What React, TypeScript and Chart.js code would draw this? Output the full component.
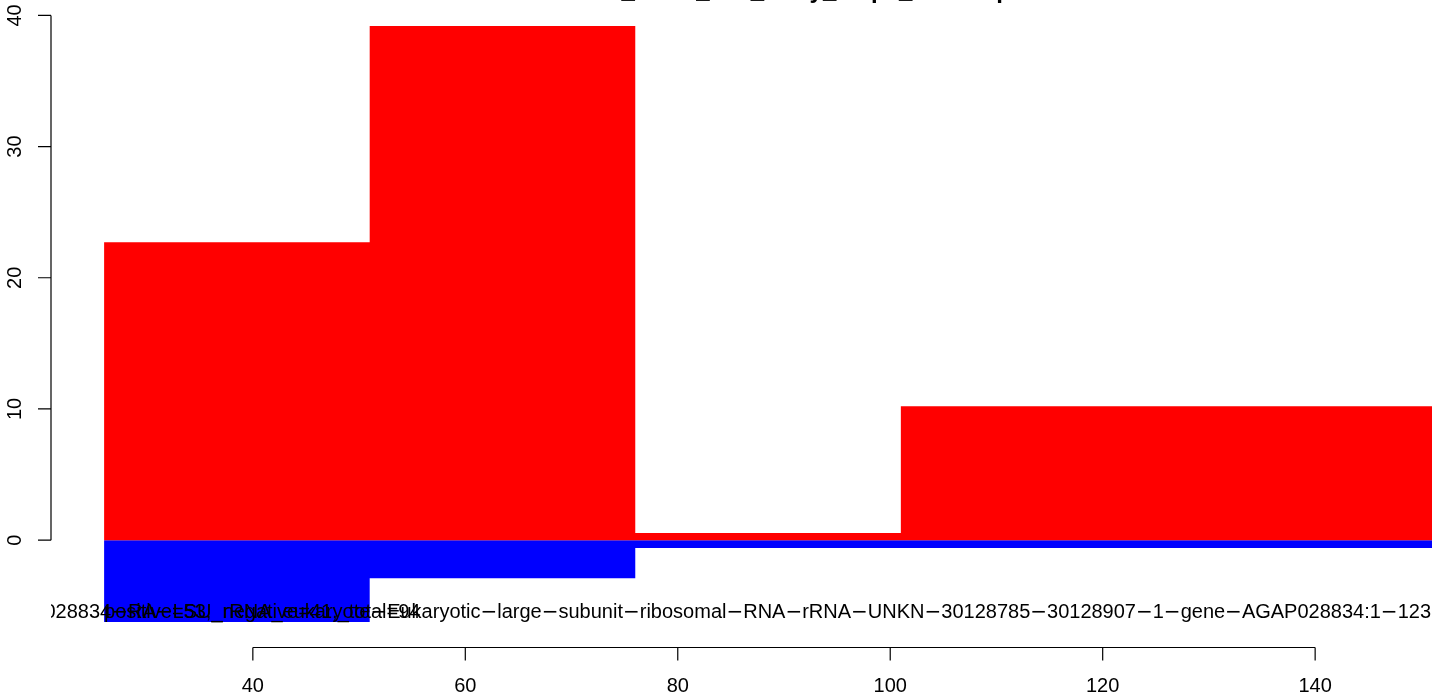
import React, { useEffect, useRef } from "react";
import { Chart, registerables } from "chart.js";

Chart.register(...registerables);

// ---- data ----
const binEdges = [26, 51, 76, 101, 151];
const positiveCounts = [22.7, 39.2, 0.55, 10.2];
const negativeCounts = [-6.25, -2.9, -0.6, -0.6];
const xTicks = [40, 60, 80, 100, 120, 140];
const yTicks = [0, 10, 20, 30, 40];
const xRange = [21, 151];
const yRange = [-8.07, 41.02];
const titleText = "AGAP028834_rRNA_raw_array_maps_heatmap";
const countLabel = "positive=53,_negative=41,_total=94";
const featureLabel =
  "AGAP028834−RA−LSU_rRNA_eukaryote−Eukaryotic−large−subunit−ribosomal−RNA−rRNA−UNKN−30128785−30128907−1−gene−AGAP028834:1−123";

const FONT = "'Liberation Sans', Arial, Helvetica, sans-serif";
const MINUS_FONT = "'DejaVu Sans', sans-serif";

function barOutline(values: number[]) {
  const pts: { x: number; y: number }[] = [];
  values.forEach((v, i) => {
    pts.push({ x: binEdges[i], y: v });
    pts.push({ x: binEdges[i + 1], y: v });
  });
  return pts;
}

function drawMinusText(ctx: CanvasRenderingContext2D, text: string, x: number, y: number, align: string, size: number) {
  const parts = text.split("−");
  ctx.font = `${size}px ${MINUS_FONT}`;
  const mw = ctx.measureText("−").width;
  ctx.font = `${size}px ${FONT}`;
  const widths = parts.map((p) => ctx.measureText(p).width);
  const total = widths.reduce((a, b) => a + b, 0) + mw * (parts.length - 1);
  let cx = align === "right" ? x - total : align === "center" ? x - total / 2 : x;
  ctx.textAlign = "left";
  parts.forEach((p, i) => {
    ctx.font = `${size}px ${FONT}`;
    ctx.fillText(p, cx, y);
    cx += widths[i];
    if (i < parts.length - 1) {
      ctx.font = `${size}px ${MINUS_FONT}`;
      ctx.fillText("−", cx, y);
      cx += mw;
    }
  });
}

const rAxesPlugin = {
  id: "rAxes",
  afterDraw(chart: any) {
    const { ctx, chartArea, scales } = chart;
    const xs = scales.x;
    const ys = scales.y;
    ctx.save();
    ctx.strokeStyle = "#000";
    ctx.fillStyle = "#000";
    ctx.lineWidth = 1.2;

    // y axis
    const ax = chartArea.left;
    ctx.beginPath();
    ctx.moveTo(ax, ys.getPixelForValue(yTicks[0]));
    ctx.lineTo(ax, ys.getPixelForValue(yTicks[yTicks.length - 1]));
    yTicks.forEach((t) => {
      const py = ys.getPixelForValue(t);
      ctx.moveTo(ax, py);
      ctx.lineTo(ax - 13, py);
    });
    ctx.stroke();
    ctx.font = `20px ${FONT}`;
    ctx.textAlign = "center";
    ctx.textBaseline = "middle";
    yTicks.forEach((t) => {
      const py = ys.getPixelForValue(t);
      ctx.save();
      ctx.translate(ax - 36, py);
      ctx.rotate(-Math.PI / 2);
      ctx.fillText(String(t), 0, 0);
      ctx.restore();
    });

    // x axis
    const ay = chartArea.bottom + 1.5;
    ctx.beginPath();
    ctx.moveTo(xs.getPixelForValue(xTicks[0]), ay);
    ctx.lineTo(xs.getPixelForValue(xTicks[xTicks.length - 1]), ay);
    xTicks.forEach((t) => {
      const px = xs.getPixelForValue(t);
      ctx.moveTo(px, ay);
      ctx.lineTo(px, ay + 13);
    });
    ctx.stroke();
    xTicks.forEach((t) => {
      ctx.fillText(String(t), xs.getPixelForValue(t), ay + 39);
    });

    // labels inside the plot region (clipped like R's text())
    ctx.save();
    ctx.beginPath();
    ctx.rect(chartArea.left, chartArea.top, chartArea.right - chartArea.left, chartArea.bottom - chartArea.top);
    ctx.clip();
    const ly = ys.getPixelForValue(-5.55);
    drawMinusText(ctx, featureLabel, chartArea.right - 1, ly, "right", 20);
    ctx.font = `20px ${FONT}`;
    ctx.textAlign = "left";
    ctx.fillText(countLabel, xs.getPixelForValue(binEdges[0]), ly);
    ctx.restore();

    // title (mostly above the top edge of the image)
    ctx.font = `bold 24px ${FONT}`;
    ctx.textAlign = "center";
    ctx.textBaseline = "alphabetic";
    ctx.fillText(titleText, (chartArea.left + chartArea.right) / 2, -2);
    ctx.restore();
  },
};

export default function App() {
  const ref = useRef<HTMLCanvasElement | null>(null);
  useEffect(() => {
    if (!ref.current) return;
    const chart = new Chart(ref.current, {
      type: "line",
      data: {
        datasets: [
          {
            label: "positive",
            data: barOutline(positiveCounts),
            fill: "origin",
            tension: 0,
            backgroundColor: "#FF0000",
            borderColor: "rgba(0,0,0,0)",
            borderWidth: 0,
            pointRadius: 0,
          },
          {
            label: "negative",
            data: barOutline(negativeCounts),
            fill: "origin",
            tension: 0,
            backgroundColor: "#0000FF",
            borderColor: "rgba(0,0,0,0)",
            borderWidth: 0,
            pointRadius: 0,
          },
        ],
      },
      options: {
        animation: false,
        responsive: false,
        devicePixelRatio: 1,
        layout: { padding: { left: 51, right: 12, top: 2, bottom: 51 } },
        plugins: { legend: { display: false }, tooltip: { enabled: false }, title: { display: false } },
        scales: {
          x: { type: "linear", min: xRange[0], max: xRange[1], display: false },
          y: { type: "linear", min: yRange[0], max: yRange[1], display: false },
        },
      },
      plugins: [rAxesPlugin],
    });
    return () => chart.destroy();
  }, []);
  return (
    <div style={{ position: "absolute", left: 0, top: 0, width: 1444, height: 697, background: "#fff" }}>
      <canvas ref={ref} width={1444} height={697} />
    </div>
  );
}
